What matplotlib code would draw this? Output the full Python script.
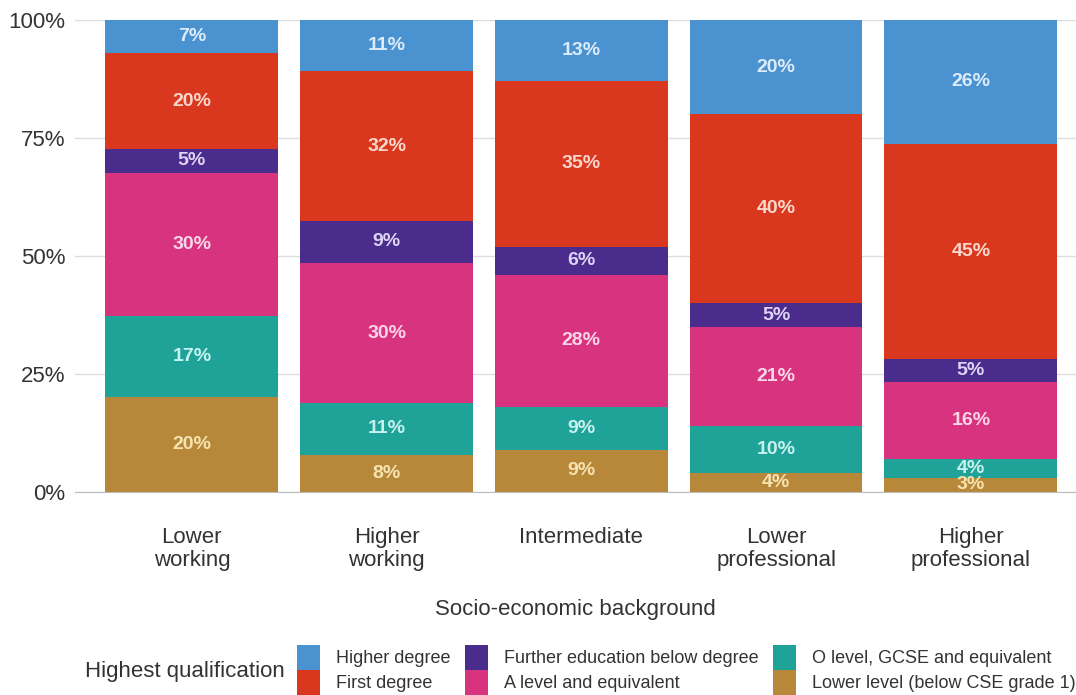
import matplotlib
matplotlib.use("Agg")
import matplotlib.pyplot as plt
from matplotlib.patches import Patch
import numpy as np

plt.rcParams['font.family'] = ['Liberation Sans', 'DejaVu Sans']

categories = ["Lower\nworking", "Higher\nworking", "Intermediate", "Lower\nprofessional", "Higher\nprofessional"]
series_names = ["Lower level (below CSE grade 1)", "O level, GCSE and equivalent", "A level and equivalent",
                "Further education below degree", "First degree", "Higher degree"]
lower_level = [20, 8, 9, 4, 3]
o_level = [17, 11, 9, 10, 4]
a_level = [30, 30, 28, 21, 16]
further_ed = [5, 9, 6, 5, 5]
first_degree = [20, 32, 35, 40, 45]
higher_degree = [7, 11, 13, 20, 26]
y_ticks = [0, 25, 50, 75, 100]
y_tick_labels = ["0%", "25%", "50%", "75%", "100%"]

series = [lower_level, o_level, a_level, further_ed, first_degree, higher_degree]
colors = ["#b8883a", "#1fa399", "#d8337f", "#4a2c8c", "#d9381e", "#4b92d0"]
text_colors = ["#f6e3b0", "#c8f2ee", "#fbd6e8", "#ddd3f5", "#fbd7cc", "#dcecfa"]

W, H = 1076, 695
fig = plt.figure(figsize=(W / 100, H / 100), dpi=100)
ax = fig.add_axes([75 / W, (H - 492) / H, 1 - 75 / W, (492 - 20) / H])

data = np.array(series, dtype=float)
totals = data.sum(axis=0)
x = np.arange(len(categories))
bottom = np.zeros(len(categories))
for vals, col, tc in zip(data, colors, text_colors):
    h = vals / totals * 100
    ax.bar(x, h, bottom=bottom, width=0.887, color=col, zorder=2)
    for xi, b, hh, v in zip(x, bottom, h, vals):
        ax.text(xi, b + hh / 2, f"{int(v)}%", ha="center", va="center", color=tc,
                fontsize=14, fontweight="bold", zorder=3)
    bottom += h

ax.set_xlim(-0.6, 4.54)
ax.set_ylim(0, 100)
ax.set_yticks(y_ticks)
ax.set_yticklabels(y_tick_labels, fontsize=16, color="#333333")
ax.set_xticks(x)
ax.set_xticklabels(categories, fontsize=16, color="#333333", linespacing=1.15)
ax.tick_params(axis="y", length=0, pad=7)
ax.tick_params(axis="x", length=0, pad=25)
ax.yaxis.grid(True, color="#dddddd", linewidth=1, zorder=0)
for s in ["top", "right", "left"]:
    ax.spines[s].set_visible(False)
ax.spines["bottom"].set_color("#bbbbbb")
ax.set_xlabel("Socio-economic background", fontsize=16, color="#333333", labelpad=20)

fig.text(85 / W, 1 - 672 / H, "Highest qualification", fontsize=16, color="#333333", va="center", ha="left")

# legend columns (column-major order like the reference)
col_groups = [[5, 4], [3, 2], [1, 0]]
col_x = [297, 465, 773]
for grp, cx in zip(col_groups, col_x):
    handles = [Patch(facecolor=colors[i]) for i in grp]
    labels = [series_names[i] for i in grp]
    fig.legend(handles, labels, loc="upper left", bbox_to_anchor=(cx / W, 1 - 645 / H),
               frameon=False, fontsize=13, handlelength=1.27, handleheight=1.75,
               handletextpad=0.9, labelspacing=0.0, borderpad=0, borderaxespad=0,
               labelcolor="#333333")

fig.savefig("out.png", dpi=100)
